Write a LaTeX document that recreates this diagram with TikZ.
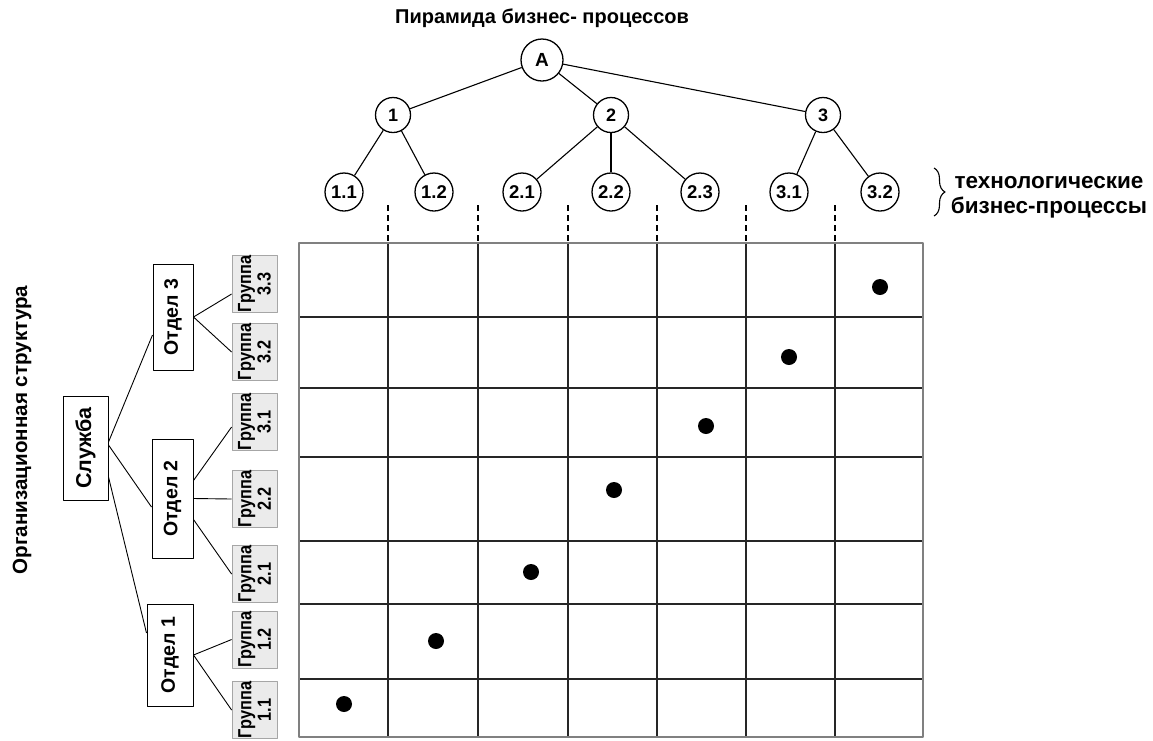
\documentclass[tikz,border=0pt]{standalone}
\usepackage{fontspec}
\setmainfont{Liberation Sans}
\newfontfamily\grpfont[FakeStretch=0.86]{Liberation Sans}
\usetikzlibrary{decorations.pathreplacing}
\begin{document}
\begin{tikzpicture}[x=1pt,y=-1pt,line join=round,
  rootc/.style={circle,draw,line width=1.3pt,fill=white,inner sep=0pt,minimum size=42pt,font=\bfseries\fontsize{19}{21}\selectfont},
  midc/.style={circle,draw,line width=1.3pt,fill=white,inner sep=0pt,minimum size=35pt,font=\bfseries\fontsize{18}{20}\selectfont},
  leafc/.style={circle,draw,line width=1.3pt,fill=white,inner sep=0pt,minimum size=38pt,font=\bfseries\fontsize{18.5}{20}\selectfont},
  tline/.style={draw,line width=1.1pt},
  oline/.style={draw,line width=0.9pt},
  outer/.style={draw=black!50,line width=2pt},
  inner/.style={draw=black!85,line width=1.3pt},
  dline/.style={draw,line width=1.1pt,dash pattern=on 6pt off 4pt},
  dotm/.style={fill=black},
  ttl/.style={font=\bfseries\fontsize{20}{23}\selectfont},
  slbox/.style={draw,line width=1pt,rotate=90,inner sep=0pt,minimum width=104pt,minimum height=45pt,font=\bfseries\fontsize{21.5}{23}\selectfont},
  otbox/.style={draw,line width=1pt,rotate=90,inner sep=0pt,font=\bfseries\fontsize{19.5}{21}\selectfont},
  grbox/.style={draw=black!35,fill=black!8,line width=0.8pt,rotate=90,inner sep=0pt,minimum width=57pt,minimum height=45pt,align=center,font=\grpfont\bfseries\fontsize{19}{19.5}\selectfont}
]
\useasboundingbox (0,0) rectangle (1153,740);

% Pyramid title
\node[ttl] (ptitle) at (542,18) {Пирамида бизнес- процессов};

% tree nodes
\node[rootc] (A) at (542,60) {A};
\node[midc] (n1) at (393,115) {1};
\node[midc] (n2) at (611,115) {2};
\node[midc] (n3) at (823,115) {3};
\node[leafc] (l11) at (344,192) {1.1};
\node[leafc] (l12) at (434,192) {1.2};
\node[leafc] (l21) at (522,192) {2.1};
\node[leafc] (l22) at (611,192) {2.2};
\node[leafc] (l23) at (700,192) {2.3};
\node[leafc] (l31) at (789,192) {3.1};
\node[leafc] (l32) at (880,192) {3.2};

\draw[tline] (A) -- (n1);
\draw[tline] (A) -- (n2);
\draw[tline] (A) -- (n3);
\draw[tline] (n1) -- (l11);
\draw[tline] (n1) -- (l12);
\draw[tline] (n2) -- (l21);
\draw[tline] (n2) -- (l22);
\draw[tline] (n2) -- (l23);
\draw[tline] (n3) -- (l31);
\draw[tline] (n3) -- (l32);

% brace and label
\draw[decorate,decoration={brace,amplitude=11pt},line width=1.1pt] (934,168) -- (934,216);
\node[font=\bfseries\fontsize{22.5}{25}\selectfont,align=center] (tech) at (1049,197) {технологические\\бизнес-процессы};

% dashed separators
\foreach \x in {388,478,568,657,746,835}
  \draw[dline] (\x,205) -- (\x,243);

% grid
\foreach \x in {388,478,568,657,746,835}
  \draw[inner] (\x,243) -- (\x,737);
\foreach \y in {317,388,457,541,604,679}
  \draw[inner] (299,\y) -- (923,\y);
\draw[outer] (299,243) rectangle (923,737);

% dots
\fill[dotm] (880,287) circle (8pt);
\fill[dotm] (789,357) circle (8pt);
\fill[dotm] (706,426) circle (8pt);
\fill[dotm] (614,490) circle (8pt);
\fill[dotm] (531,572) circle (8pt);
\fill[dotm] (436,641) circle (8pt);
\fill[dotm] (344,704) circle (8pt);

% org title
\node[font=\bfseries\fontsize{20.6}{23}\selectfont,rotate=90] (otitle) at (22,430) {Организационная структура};

% org nodes
\node[slbox] (sl) at (85.5,448) {Служба};
\node[otbox,minimum width=106pt,minimum height=40pt] (o3) at (173,317) {Отдел 3};
\node[otbox,minimum width=119pt,minimum height=41pt] (o2) at (172.5,498.5) {Отдел 2};
\node[otbox,minimum width=102pt,minimum height=46pt] (o1) at (170,655) {Отдел 1};

\node[grbox] (g33) at (254.5,284) {Группа\\3.3};
\node[grbox] (g32) at (254.5,352) {Группа\\3.2};
\node[grbox] (g31) at (254.5,422) {Группа\\3.1};
\node[grbox] (g22) at (254.5,499) {Группа\\2.2};
\node[grbox] (g21) at (254.5,574) {Группа\\2.1};
\node[grbox] (g12) at (254.5,639.5) {Группа\\1.2};
\node[grbox] (g11) at (254.5,710) {Группа\\1.1};

% org connectors (rotated nodes: .south = right side, .north = left side)
\draw[oline] ([yshift=6pt]sl.south) -- ([yshift=-18pt]o3.north);
\draw[oline] ([yshift=3pt]sl.south) -- ([yshift=-8.5pt]o2.north);
\draw[oline] ([yshift=-29pt]sl.south) -- ([yshift=22pt]o1.north);

\draw[oline] (o3.south) -- ([yshift=-10pt]g33.north);
\draw[oline] (o3.south) -- (g32.north);
\draw[oline] ([yshift=18pt]o2.south) -- ([yshift=-5pt]g31.north);
\draw[oline] (o2.south) -- (g22.north);
\draw[oline] ([yshift=-21pt]o2.south) -- (g21.north);
\draw[oline] (o1.south) -- (g12.north);
\draw[oline] (o1.south) -- (g11.north);
\end{tikzpicture}
\end{document}
